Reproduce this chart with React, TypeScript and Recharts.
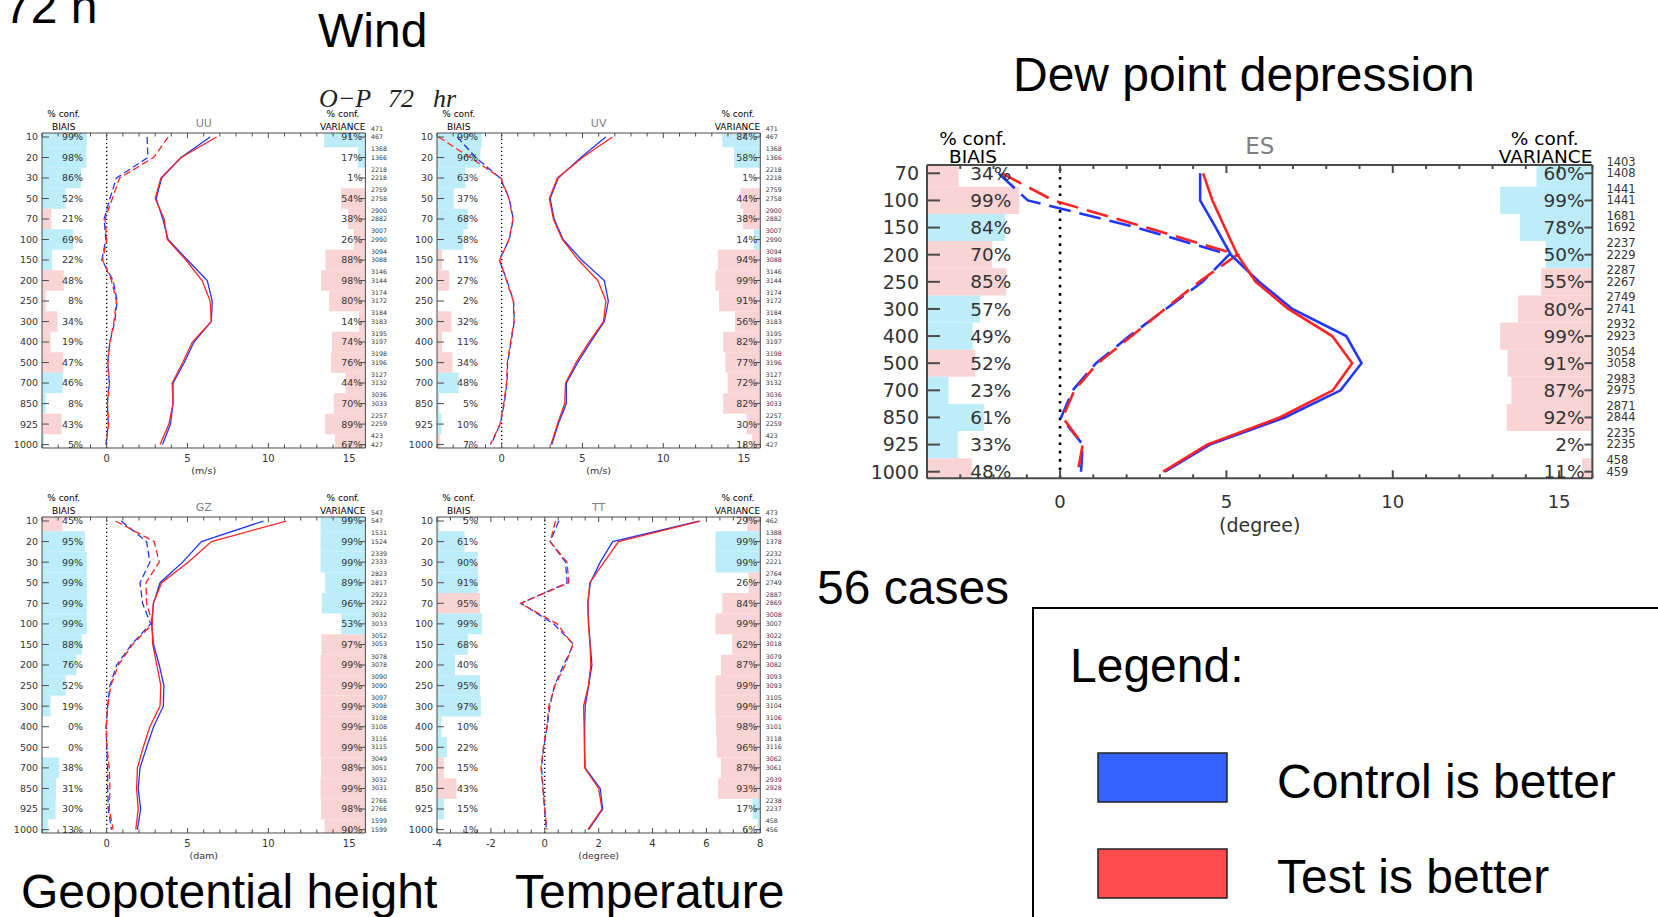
import React from 'react';
import { ComposedChart, Line, XAxis, YAxis, ReferenceArea, ReferenceLine } from 'recharts';

// ---------- pressure levels (hPa) ----------
const PRESSURE_LEVELS = ['10', '20', '30', '50', '70', '100', '150', '200', '250', '300', '400', '500', '700', '850', '925', '1000'];
const ES_LEVELS = ['70', '100', '150', '200', '250', '300', '400', '500', '700', '850', '925', '1000'];

// ---------- UU (m/s) ----------
const UU_BIAS_CTL = [2.5, 2.55, 0.6, 0.2, -0.16, -0.05, -0.3, 0.4, 0.65, 0.5, 0.2, 0.06, 0.16, 0.04, 0.1, -0.05];
const UU_BIAS_TEST = [3.8, 2.9, 0.8, 0.35, -0.1, 0.0, -0.25, 0.3, 0.6, 0.45, 0.2, 0.08, 0.18, 0.05, 0.12, -0.03];
const UU_STD_CTL = [6.4, 4.6, 3.4, 3.06, 3.47, 3.8, 5.0, 6.22, 6.53, 6.47, 5.4, 4.8, 4.1, 4.1, 3.95, 3.45];
const UU_STD_TEST = [6.8, 4.6, 3.35, 3.0, 3.55, 3.75, 4.9, 5.9, 6.4, 6.47, 5.3, 4.7, 4.05, 4.1, 3.85, 3.3];
const UU_BIAS_CONF = [99, 98, 86, 52, 21, 69, 22, 48, 8, 34, 19, 47, 46, 8, 43, 5];
const UU_BIAS_WIN = ['C', 'C', 'C', 'C', 'T', 'C', 'C', 'T', 'T', 'T', 'T', 'T', 'C', 'C', 'T', 'C'];
const UU_VAR_CONF = [91, 17, 1, 54, 38, 26, 88, 98, 80, 14, 74, 76, 44, 70, 89, 67];
const UU_VAR_WIN = ['C', 'C', 'T', 'T', 'T', 'T', 'T', 'T', 'T', 'T', 'T', 'T', 'T', 'T', 'T', 'T'];

// ---------- UV (m/s) ----------
const UV_BIAS_CTL = [-2.75, -1.6, -0.1, 0.47, 0.72, 0.47, -0.15, 0.33, 0.74, 0.78, 0.58, 0.37, 0.33, 0.16, -0.08, -0.66];
const UV_BIAS_TEST = [-3.9, -1.95, -0.05, 0.45, 0.7, 0.45, -0.12, 0.3, 0.72, 0.76, 0.55, 0.35, 0.3, 0.13, -0.1, -0.7];
const UV_STD_CTL = [6.44, 4.9, 3.5, 3.0, 3.25, 3.8, 4.95, 6.35, 6.6, 6.35, 5.5, 4.7, 4.0, 4.0, 3.5, 3.1];
const UV_STD_TEST = [6.85, 5.0, 3.45, 2.95, 3.2, 3.75, 4.75, 5.95, 6.45, 6.3, 5.4, 4.6, 3.95, 3.9, 3.45, 3.05];
const UV_BIAS_CONF = [99, 96, 63, 37, 68, 58, 11, 27, 2, 32, 11, 34, 48, 5, 10, 7];
const UV_BIAS_WIN = ['C', 'C', 'C', 'C', 'C', 'C', 'T', 'T', 'T', 'T', 'T', 'T', 'C', 'C', 'C', 'T'];
const UV_VAR_CONF = [84, 58, 1, 44, 38, 14, 94, 99, 91, 56, 82, 77, 72, 82, 30, 18];
const UV_VAR_WIN = ['C', 'C', 'C', 'T', 'T', 'C', 'T', 'T', 'T', 'T', 'T', 'T', 'T', 'T', 'T', 'T'];

// wind sample counts (control / test)
const WIND_N_CTL = [471, 1368, 2218, 2759, 2900, 3007, 3094, 3146, 3174, 3184, 3195, 3198, 3127, 3036, 2257, 423];
const WIND_N_TEST = [467, 1366, 2218, 2758, 2882, 2990, 3088, 3144, 3172, 3183, 3197, 3196, 3132, 3033, 2259, 427];

// ---------- GZ (dam) ----------
const GZ_BIAS_CTL = [0.9, 2.47, 2.67, 2.06, 2.22, 2.72, 1.54, 0.62, 0.2, 0.06, -0.04, 0.0, 0.06, 0.06, 0.1, 0.3];
const GZ_BIAS_TEST = [0.55, 2.94, 3.25, 2.43, 2.47, 2.84, 1.6, 0.72, 0.26, 0.06, -0.02, 0.02, 0.16, 0.2, 0.16, 0.4];
const GZ_STD_CTL = [9.7, 5.86, 4.7, 3.3, 2.9, 2.78, 2.9, 3.25, 3.54, 3.5, 2.9, 2.47, 2.06, 1.95, 2.1, 1.9];
const GZ_STD_TEST = [11.1, 6.48, 5.04, 3.4, 2.88, 2.8, 2.85, 3.1, 3.35, 3.3, 2.67, 2.26, 1.9, 1.85, 1.95, 1.8];
const GZ_BIAS_CONF = [45, 95, 99, 99, 99, 99, 88, 76, 52, 19, 0, 0, 38, 31, 30, 13];
const GZ_BIAS_WIN = ['T', 'C', 'C', 'C', 'C', 'C', 'C', 'C', 'C', 'C', 'C', 'C', 'C', 'C', 'C', 'C'];
const GZ_VAR_CONF = [99, 99, 99, 89, 96, 53, 97, 99, 99, 99, 99, 99, 98, 99, 98, 90];
const GZ_VAR_WIN = ['C', 'C', 'C', 'C', 'C', 'C', 'T', 'T', 'T', 'T', 'T', 'T', 'T', 'T', 'T', 'T'];
const GZ_N_CTL = [547, 1531, 2339, 2823, 2923, 3032, 3052, 3078, 3090, 3097, 3108, 3116, 3049, 3032, 2766, 1599];
const GZ_N_TEST = [547, 1524, 2333, 2817, 2922, 3033, 3053, 3078, 3090, 3098, 3108, 3115, 3051, 3031, 2766, 1599];

// ---------- TT (degree) ----------
const TT_BIAS_CTL = [0.52, 0.2, 0.77, 0.83, -0.88, 0.33, 1.07, 0.7, 0.36, 0.19, 0.09, -0.04, -0.12, -0.06, -0.01, 0.06];
const TT_BIAS_TEST = [0.4, 0.2, 0.83, 0.89, -0.9, 0.46, 1.04, 0.76, 0.38, 0.15, 0.08, -0.05, -0.14, -0.07, 0.0, 0.08];
const TT_STD_CTL = [5.72, 2.52, 2.06, 1.69, 1.6, 1.63, 1.69, 1.75, 1.63, 1.5, 1.48, 1.48, 1.5, 2.06, 2.15, 1.63];
const TT_STD_TEST = [5.77, 2.74, 2.2, 1.67, 1.6, 1.62, 1.68, 1.71, 1.62, 1.44, 1.46, 1.47, 1.48, 2.0, 2.12, 1.6];
const TT_BIAS_CONF = [5, 61, 90, 91, 95, 99, 68, 40, 95, 97, 10, 22, 15, 43, 15, 1];
const TT_BIAS_WIN = ['C', 'C', 'C', 'C', 'T', 'C', 'C', 'C', 'C', 'C', 'C', 'C', 'T', 'T', 'C', 'C'];
const TT_VAR_CONF = [29, 99, 99, 26, 84, 99, 62, 87, 99, 99, 98, 96, 87, 93, 17, 6];
const TT_VAR_WIN = ['T', 'C', 'C', 'T', 'T', 'T', 'T', 'T', 'T', 'T', 'T', 'T', 'T', 'T', 'C', 'C'];
const TT_N_CTL = [473, 1388, 2232, 2764, 2887, 3008, 3022, 3079, 3093, 3105, 3106, 3118, 3062, 2939, 2238, 458];
const TT_N_TEST = [462, 1378, 2221, 2749, 2869, 3007, 3018, 3082, 3093, 3104, 3101, 3116, 3061, 2928, 2237, 456];

// ---------- ES (degree) ----------
const ES_BIAS_CTL = [-1.85, -0.97, 2.3, 5.08, 4.28, 3.18, 2.08, 1.08, 0.38, 0.03, 0.68, 0.63];
const ES_BIAS_TEST = [-1.75, -0.2, 2.6, 5.33, 4.18, 3.15, 2.15, 1.13, 0.43, 0.08, 0.68, 0.53];
const ES_STD_CTL = [4.21, 4.21, 4.68, 5.13, 5.98, 6.98, 8.6, 9.06, 8.43, 6.75, 4.5, 3.15];
const ES_STD_TEST = [4.3, 4.58, 4.95, 5.33, 5.88, 6.86, 8.18, 8.78, 8.2, 6.6, 4.42, 3.1];
const ES_BIAS_CONF = [34, 99, 84, 70, 85, 57, 49, 52, 23, 61, 33, 48];
const ES_BIAS_WIN = ['T', 'T', 'C', 'T', 'T', 'C', 'C', 'T', 'C', 'C', 'C', 'T'];
const ES_VAR_CONF = [60, 99, 78, 50, 55, 80, 99, 91, 87, 92, 2, 11];
const ES_VAR_WIN = ['C', 'C', 'C', 'C', 'T', 'T', 'T', 'T', 'T', 'T', 'C', 'T'];
const ES_N_CTL = [1403, 1441, 1681, 2237, 2287, 2749, 2932, 3054, 2983, 2871, 2235, 458];
const ES_N_TEST = [1408, 1441, 1692, 2229, 2267, 2741, 2923, 3058, 2975, 2844, 2235, 459];

// ---------- colours ----------
const CTL_LINE = '#2236ff';
const TEST_LINE = '#ff2323';
const CTL_FILL = '#bdedf9';
const TEST_FILL = '#f9d4d4';
const INK = '#333333';
const FRAME = '#4a4a4a';
const PANEL_FONT = '"DejaVu Sans", Verdana, sans-serif';
const TITLE_FONT = '"Liberation Sans", Arial, Helvetica, sans-serif';

// confidence bar at 100 % spans this fraction of the x range
const BAR_FRACTION = 0.14;
// axes are given a 1px band so that they get drawn
const AXIS_BAND = 1;

interface PanelStyle {
  ML: number; MR: number; MT: number; MB: number;
  padTop: number; padBottom: number;
  levelFont: number; pctFont: number; countFont: number; headFont: number; titleFont: number;
  tickFont: number; unitFont: number;
  levelGap: number; yTickL: number; yTickR: number; xMinor: number; xMajor: number;
  pctLeft: number; pctRightInset: number; countGap: number; countUpperDy: number; countLowerDy: number;
  confHeadDy: number; nameHeadDy: number; confLeftDx: number; confRightDx: number; titleDy: number;
  tickLabelDy: number; unitDy: number;
  lineW: number; dash: string; zeroDash: string; zeroW: number; frameW: number;
}

const SMALL: PanelStyle = {
  ML: 42, MR: 28, MT: 42, MB: 32,
  padTop: 0.195, padBottom: 0.166,
  levelFont: 9.5, pctFont: 9.5, countFont: 6.3, headFont: 9, titleFont: 11,
  tickFont: 10, unitFont: 9.5,
  levelGap: 4, yTickL: 7, yTickR: 6, xMinor: 3.5, xMajor: 5,
  pctLeft: 41, pctRightInset: 3, countGap: 5.5, countUpperDy: -6.4, countLowerDy: 2.0,
  confHeadDy: -15.7, nameHeadDy: -3.4, confLeftDx: 21.7, confRightDx: 22.4, titleDy: -6,
  tickLabelDy: 14, unitDy: 26,
  lineW: 1.3, dash: '7 3.5', zeroDash: '1.3 2.7', zeroW: 1.3, frameW: 1,
};

const LARGE: PanelStyle = {
  ML: 80, MR: 70, MT: 60, MB: 62,
  padTop: 0.306, padBottom: 0.243,
  levelFont: 19, pctFont: 18.5, countFont: 11.5, headFont: 18.5, titleFont: 23,
  tickFont: 18, unitFont: 19,
  levelGap: 8, yTickL: 13, yTickR: 8, xMinor: 4, xMajor: 8,
  pctLeft: 84.4, pctRightInset: 7.7, countGap: 14, countUpperDy: -7.6, countLowerDy: 3.9,
  confHeadDy: -20, nameHeadDy: -2.3, confLeftDx: 46, confRightDx: 47.7, titleDy: -11,
  tickLabelDy: 30, unitDy: 54,
  lineW: 2.6, dash: '22 9', zeroDash: '2.6 5.7', zeroW: 2.6, frameW: 2,
};

interface Box { x: number; y: number; w: number; h: number; }

interface PanelProps {
  title: string; unit: string; levels: string[];
  biasCtl: number[]; biasTest: number[]; stdCtl: number[]; stdTest: number[];
  biasConf: number[]; biasWin: string[]; varConf: number[]; varWin: string[];
  nCtl: number[]; nTest: number[];
  xMin: number; xMax: number; minorStep: number; majorStep: number; labelStep: number;
  box: Box; st: PanelStyle;
}

const isMultiple = (v: number, s: number) => Math.abs(v / s - Math.round(v / s)) < 1e-6;

function ProfilePanel(p: PanelProps) {
  const { levels, st, box, xMin, xMax } = p;
  const n = levels.length;
  const rows = levels.map((_, i) => ({
    idx: i,
    biasCtl: p.biasCtl[i],
    biasTest: p.biasTest[i],
    stdCtl: p.stdCtl[i],
    stdTest: p.stdTest[i],
  }));
  const yMin = -st.padTop;
  const yMax = n - 1 + st.padBottom;
  const span = xMax - xMin;
  const barLen = (pct: number) => (pct / 100) * BAR_FRACTION * span;
  const bandLo = (i: number) => Math.max(i - 0.5, yMin);
  const bandHi = (i: number) => Math.min(i + 0.5, yMax);
  const xTicks: number[] = [];
  for (let k = 0; xMin + k * p.minorStep <= xMax + 1e-9; k++) xTicks.push(xMin + k * p.minorStep);
  const yTicks = levels.map((_, i) => i);
  const W = box.w + st.ML + st.MR;
  const H = box.h + st.MT + st.MB;
  const cx = st.ML + box.w / 2;

  const leftTick = (t: any) => {
    const i = t.payload.value as number;
    return (
      <g>
        <line x1={t.x} y1={t.y} x2={t.x + st.yTickL} y2={t.y} stroke={FRAME} strokeWidth={st.frameW} />
        <text x={t.x - st.levelGap} y={t.y} dy="0.36em" textAnchor="end" fontSize={st.levelFont} fill={INK} fontFamily={PANEL_FONT}>
          {levels[i]}
        </text>
        <text x={t.x + st.pctLeft} y={t.y} dy="0.36em" textAnchor="end" fontSize={st.pctFont} fill={INK} fontFamily={PANEL_FONT}>
          {`${p.biasConf[i]}%`}
        </text>
      </g>
    );
  };

  const rightTick = (t: any) => {
    const i = t.payload.value as number;
    return (
      <g>
        <text x={t.x - st.pctRightInset} y={t.y} dy="0.36em" textAnchor="end" fontSize={st.pctFont} fill={INK} fontFamily={PANEL_FONT}>
          {`${p.varConf[i]}%`}
        </text>
        <line x1={t.x} y1={t.y} x2={t.x - st.yTickR} y2={t.y} stroke={FRAME} strokeWidth={st.frameW} />
        <text x={t.x + st.countGap} y={t.y + st.countUpperDy} fontSize={st.countFont} fill={INK} fontFamily={PANEL_FONT}>
          {String(p.nCtl[i])}
        </text>
        <text x={t.x + st.countGap} y={t.y + st.countLowerDy} fontSize={st.countFont} fill={INK} fontFamily={PANEL_FONT}>
          {String(p.nTest[i])}
        </text>
      </g>
    );
  };

  const bottomTick = (t: any) => {
    const v = t.payload.value as number;
    const major = isMultiple(v, p.majorStep);
    const labelled = isMultiple(v, p.labelStep);
    return (
      <g>
        <line x1={t.x} y1={t.y} x2={t.x} y2={t.y - (major ? st.xMajor : st.xMinor)} stroke={FRAME} strokeWidth={st.frameW} />
        {labelled ? (
          <text x={t.x} y={t.y + st.tickLabelDy} textAnchor="middle" fontSize={st.tickFont} fill={INK} fontFamily={PANEL_FONT}>
            {String(v)}
          </text>
        ) : null}
      </g>
    );
  };

  const topTick = (t: any) => {
    const v = t.payload.value as number;
    const major = isMultiple(v, p.majorStep);
    return <line x1={t.x} y1={t.y} x2={t.x} y2={t.y + (major ? st.xMajor : st.xMinor)} stroke={FRAME} strokeWidth={st.frameW} />;
  };

  return (
    <div style={{ position: 'absolute', left: box.x - st.ML, top: box.y - st.MT, width: W, height: H }}>
      <ComposedChart
        width={W}
        height={H}
        data={rows}
        layout="vertical"
        margin={{
          top: st.MT - AXIS_BAND,
          right: st.MR - AXIS_BAND,
          bottom: st.MB - AXIS_BAND,
          left: st.ML - AXIS_BAND,
        }}
      >
        {levels.map((_, i) =>
          p.biasConf[i] > 0 ? (
            <ReferenceArea
              key={`b${i}`}
              x1={xMin}
              x2={xMin + barLen(p.biasConf[i])}
              y1={bandLo(i)}
              y2={bandHi(i)}
              fill={p.biasWin[i] === 'C' ? CTL_FILL : TEST_FILL}
              fillOpacity={1}
              stroke="none"
              ifOverflow="hidden"
            />
          ) : null,
        )}
        {levels.map((_, i) =>
          p.varConf[i] > 0 ? (
            <ReferenceArea
              key={`v${i}`}
              x1={xMax - barLen(p.varConf[i])}
              x2={xMax}
              y1={bandLo(i)}
              y2={bandHi(i)}
              fill={p.varWin[i] === 'C' ? CTL_FILL : TEST_FILL}
              fillOpacity={1}
              stroke="none"
              ifOverflow="hidden"
            />
          ) : null,
        )}
        <ReferenceLine x={0} stroke="#000" strokeWidth={st.zeroW} strokeDasharray={st.zeroDash} />
        <Line type="linear" dataKey="biasCtl" stroke={CTL_LINE} strokeWidth={st.lineW} strokeDasharray={st.dash} dot={false} isAnimationActive={false} />
        <Line type="linear" dataKey="biasTest" stroke={TEST_LINE} strokeWidth={st.lineW} strokeDasharray={st.dash} dot={false} isAnimationActive={false} />
        <Line type="linear" dataKey="stdCtl" stroke={CTL_LINE} strokeWidth={st.lineW} dot={false} isAnimationActive={false} />
        <Line type="linear" dataKey="stdTest" stroke={TEST_LINE} strokeWidth={st.lineW} dot={false} isAnimationActive={false} />
        <XAxis
          type="number"
          domain={[xMin, xMax]}
          allowDataOverflow
          ticks={xTicks}
          interval={0}
          height={AXIS_BAND}
          tickSize={0}
          tickMargin={0}
          tickLine={false}
          axisLine={{ stroke: FRAME, strokeWidth: st.frameW }}
          tick={bottomTick}
        />
        <XAxis
          xAxisId="top"
          orientation="top"
          type="number"
          domain={[xMin, xMax]}
          allowDataOverflow
          ticks={xTicks}
          interval={0}
          height={AXIS_BAND}
          tickSize={0}
          tickMargin={0}
          tickLine={false}
          axisLine={{ stroke: FRAME, strokeWidth: st.frameW }}
          tick={topTick}
        />
        <YAxis
          type="number"
          dataKey="idx"
          domain={[yMin, yMax]}
          allowDataOverflow
          ticks={yTicks}
          interval={0}
          width={AXIS_BAND}
          tickSize={0}
          tickMargin={0}
          tickLine={false}
          axisLine={{ stroke: FRAME, strokeWidth: st.frameW }}
          tick={leftTick}
        />
        <YAxis
          yAxisId="right"
          orientation="right"
          type="number"
          dataKey="idx"
          domain={[yMin, yMax]}
          allowDataOverflow
          ticks={yTicks}
          interval={0}
          width={AXIS_BAND}
          tickSize={0}
          tickMargin={0}
          tickLine={false}
          axisLine={{ stroke: FRAME, strokeWidth: st.frameW }}
          tick={rightTick}
        />
      </ComposedChart>
      <svg width={W} height={H} style={{ position: 'absolute', left: 0, top: 0, pointerEvents: 'none' }}>
        <g fontFamily={PANEL_FONT} fill="#000">
          <text x={cx} y={st.MT + st.titleDy} textAnchor="middle" fontSize={st.titleFont} fill="#808080">{p.title}</text>
          <text x={st.ML + st.confLeftDx} y={st.MT + st.confHeadDy} textAnchor="middle" fontSize={st.headFont}>% conf.</text>
          <text x={st.ML + st.confLeftDx} y={st.MT + st.nameHeadDy} textAnchor="middle" fontSize={st.headFont}>BIAIS</text>
          <text x={st.ML + box.w - st.confRightDx} y={st.MT + st.confHeadDy} textAnchor="middle" fontSize={st.headFont}>% conf.</text>
          <text x={st.ML + box.w} y={st.MT + st.nameHeadDy} textAnchor="end" fontSize={st.headFont}>VARIANCE</text>
          <text x={cx} y={st.MT + box.h + st.unitDy} textAnchor="middle" fontSize={st.unitFont} fill={INK}>{p.unit}</text>
        </g>
      </svg>
    </div>
  );
}

function PageText() {
  return (
    <svg width={1658} height={917} style={{ position: 'absolute', left: 0, top: 0 }}>
      <g fontFamily={TITLE_FONT} fontSize={48} fill="#000">
        <text x={4} y={23}>72 h</text>
        <text x={318} y={46.5}>Wind</text>
        <text x={1013} y={91}>Dew point depression</text>
        <text x={817} y={604}>56 cases</text>
        <text x={21} y={908}>Geopotential height</text>
        <text x={515} y={908}>Temperature</text>
        <text x={1070} y={682}>Legend:</text>
        <text x={1277} y={798}>Control is better</text>
        <text x={1277} y={893}>Test is better</text>
      </g>
      <g fontFamily='"Liberation Serif", "DejaVu Serif", serif' fontStyle="italic" fontSize={26} fill="#222">
        <text x={319} y={107}>O−P</text>
        <text x={388} y={107}>72</text>
        <text x={433} y={107}>hr</text>
      </g>
      <rect x={1033} y={608} width={700} height={400} fill="none" stroke="#000" strokeWidth={2} />
      <rect x={1098} y={753} width={129} height={49} fill="#3561ff" stroke="#222" strokeWidth={1.5} />
      <rect x={1098} y={849} width={129} height={49} fill="#ff4d4d" stroke="#222" strokeWidth={1.5} />
    </svg>
  );
}

export default function App() {
  return (
    <div style={{ position: 'absolute', left: 0, top: 0, width: 1658, height: 917, background: '#fff', overflow: 'hidden' }}>
      <PageText />
      <ProfilePanel
        title="UU" unit="(m/s)" levels={PRESSURE_LEVELS}
        biasCtl={UU_BIAS_CTL} biasTest={UU_BIAS_TEST} stdCtl={UU_STD_CTL} stdTest={UU_STD_TEST}
        biasConf={UU_BIAS_CONF} biasWin={UU_BIAS_WIN} varConf={UU_VAR_CONF} varWin={UU_VAR_WIN}
        nCtl={WIND_N_CTL} nTest={WIND_N_TEST}
        xMin={-4} xMax={16} minorStep={1} majorStep={5} labelStep={5}
        box={{ x: 42.3, y: 132.7, w: 323.4, h: 315 }} st={SMALL}
      />
      <ProfilePanel
        title="UV" unit="(m/s)" levels={PRESSURE_LEVELS}
        biasCtl={UV_BIAS_CTL} biasTest={UV_BIAS_TEST} stdCtl={UV_STD_CTL} stdTest={UV_STD_TEST}
        biasConf={UV_BIAS_CONF} biasWin={UV_BIAS_WIN} varConf={UV_VAR_CONF} varWin={UV_VAR_WIN}
        nCtl={WIND_N_CTL} nTest={WIND_N_TEST}
        xMin={-4} xMax={16} minorStep={1} majorStep={5} labelStep={5}
        box={{ x: 436.7, y: 132.7, w: 323.3, h: 315 }} st={SMALL}
      />
      <ProfilePanel
        title="GZ" unit="(dam)" levels={PRESSURE_LEVELS}
        biasCtl={GZ_BIAS_CTL} biasTest={GZ_BIAS_TEST} stdCtl={GZ_STD_CTL} stdTest={GZ_STD_TEST}
        biasConf={GZ_BIAS_CONF} biasWin={GZ_BIAS_WIN} varConf={GZ_VAR_CONF} varWin={GZ_VAR_WIN}
        nCtl={GZ_N_CTL} nTest={GZ_N_TEST}
        xMin={-4} xMax={16} minorStep={1} majorStep={5} labelStep={5}
        box={{ x: 42.3, y: 516.7, w: 323.4, h: 316 }} st={SMALL}
      />
      <ProfilePanel
        title="TT" unit="(degree)" levels={PRESSURE_LEVELS}
        biasCtl={TT_BIAS_CTL} biasTest={TT_BIAS_TEST} stdCtl={TT_STD_CTL} stdTest={TT_STD_TEST}
        biasConf={TT_BIAS_CONF} biasWin={TT_BIAS_WIN} varConf={TT_VAR_CONF} varWin={TT_VAR_WIN}
        nCtl={TT_N_CTL} nTest={TT_N_TEST}
        xMin={-4} xMax={8} minorStep={0.5} majorStep={2} labelStep={2}
        box={{ x: 436.7, y: 516.7, w: 323.3, h: 316 }} st={SMALL}
      />
      <ProfilePanel
        title="ES" unit="(degree)" levels={ES_LEVELS}
        biasCtl={ES_BIAS_CTL} biasTest={ES_BIAS_TEST} stdCtl={ES_STD_CTL} stdTest={ES_STD_TEST}
        biasConf={ES_BIAS_CONF} biasWin={ES_BIAS_WIN} varConf={ES_VAR_CONF} varWin={ES_VAR_WIN}
        nCtl={ES_N_CTL} nTest={ES_N_TEST}
        xMin={-4} xMax={16} minorStep={1} majorStep={5} labelStep={5}
        box={{ x: 927.3, y: 165, w: 665.4, h: 313.3 }} st={LARGE}
      />
    </div>
  );
}
